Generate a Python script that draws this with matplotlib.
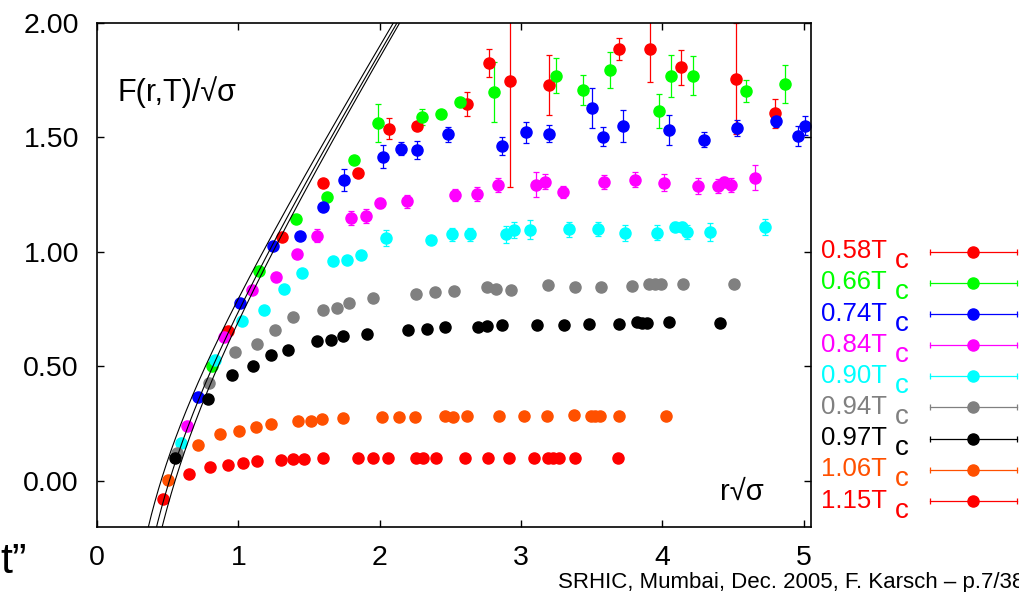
import numpy as np
import matplotlib
matplotlib.use("Agg")
import matplotlib.pyplot as plt
from matplotlib.lines import Line2D

plt.rcParams['font.family'] = ['Liberation Sans', 'DejaVu Sans']

# free energy F(r,T)/sqrt(sigma) vs r*sqrt(sigma) for several temperatures
labels = ["0.58", "0.66", "0.74", "0.84", "0.90", "0.94", "0.97", "1.06", "1.15"]
colors = ["#ff0000", "#00ff00", "#0000ff", "#ff00ff", "#00ffff",
          "#808080", "#000000", "#ff5000", "#ff0000"]

x058 = [0.925, 1.309, 1.602, 1.849, 2.066, 2.262, 2.616, 2.772, 2.923, 3.199,
        3.694, 3.916, 4.131, 4.522, 4.798]
y058 = [0.654, 1.066, 1.302, 1.345, 1.537, 1.547, 1.646, 1.823, 1.747, 1.728,
        1.887, 1.884, 1.806, 1.755, 1.604]
e058 = [0, 0, 0, 0, 0.045, 0.012, 0.053, 0.062, 0.462, 0.129,
        0.048, 0.141, 0.076, 0.243, 0.065]

x066 = [0.812, 1.149, 1.406, 1.625, 1.817, 1.991, 2.298, 2.437, 2.567, 2.812,
        3.248, 3.442, 3.631, 3.975, 4.058, 4.218, 4.591, 4.869]
y066 = [0.501, 0.918, 1.145, 1.238, 1.400, 1.563, 1.589, 1.601, 1.653, 1.697,
        1.769, 1.705, 1.793, 1.615, 1.769, 1.769, 1.702, 1.731]
e066 = [0, 0, 0, 0, 0, 0.083, 0.035, 0, 0.01, 0.13,
        0.076, 0.065, 0.08, 0.075, 0.092, 0.086, 0.05, 0.083]

x074 = [0.715, 1.014, 1.243, 1.434, 1.602, 1.746, 2.026, 2.149, 2.267, 2.482,
        2.864, 3.038, 3.201, 3.505, 3.579, 3.720, 4.048, 4.296, 4.529, 4.803,
        4.959, 5.013]
y074 = [0.366, 0.777, 1.027, 1.069, 1.197, 1.313, 1.415, 1.450, 1.444, 1.512,
        1.461, 1.521, 1.515, 1.628, 1.502, 1.551, 1.531, 1.490, 1.541, 1.569,
        1.505, 1.551]
e074 = [0, 0, 0, 0, 0, 0.047, 0.051, 0.028, 0.038, 0.034,
        0.038, 0.044, 0.037, 0.086, 0.041, 0.07, 0.067, 0.034, 0.036, 0.024,
        0.044, 0.041]

x084 = [0.637, 0.897, 1.099, 1.269, 1.418, 1.555, 1.795, 1.904, 2.005, 2.196,
        2.536, 2.692, 2.838, 3.107, 3.173, 3.296, 3.588, 3.805, 4.011, 4.253,
        4.393, 4.437, 4.485, 4.659]
y084 = [0.240, 0.628, 0.834, 0.889, 0.992, 1.071, 1.149, 1.156, 1.213, 1.220,
        1.248, 1.251, 1.290, 1.293, 1.305, 1.261, 1.306, 1.315, 1.302, 1.287,
        1.287, 1.305, 1.290, 1.323]
e084 = [0, 0, 0, 0, 0, 0.028, 0.03, 0.031, 0.02, 0.03,
        0.025, 0.03, 0.03, 0.055, 0.033, 0.025, 0.03, 0.033, 0.038, 0.033,
        0.03, 0.02, 0.03, 0.055]

x090 = [0.597, 0.837, 1.026, 1.184, 1.323, 1.449, 1.670, 1.772, 1.868, 2.047,
        2.364, 2.510, 2.642, 2.892, 2.953, 3.067, 3.340, 3.548, 3.737, 3.961,
        4.091, 4.138, 4.178, 4.338, 4.727]
y090 = [0.166, 0.529, 0.696, 0.748, 0.838, 0.909, 0.959, 0.962, 0.986, 1.059,
        1.052, 1.076, 1.076, 1.076, 1.095, 1.097, 1.098, 1.101, 1.084, 1.084,
        1.110, 1.108, 1.088, 1.087, 1.110]
e090 = [0, 0, 0, 0, 0, 0, 0, 0, 0, 0.035,
        0, 0.028, 0.03, 0.038, 0.035, 0.04, 0.032, 0.03, 0.035, 0.033,
        0.02, 0.02, 0.03, 0.038, 0.035]

x094 = [0.564, 0.795, 0.979, 1.132, 1.262, 1.385, 1.597, 1.695, 1.786, 1.956,
        2.258, 2.394, 2.524, 2.762, 2.821, 2.930, 3.190, 3.383, 3.567, 3.784,
        3.907, 3.949, 3.989, 4.145, 4.510]
y094 = [0.121, 0.429, 0.564, 0.596, 0.660, 0.715, 0.744, 0.756, 0.776, 0.797,
        0.817, 0.824, 0.831, 0.845, 0.838, 0.834, 0.856, 0.848, 0.845, 0.851,
        0.858, 0.860, 0.858, 0.860, 0.858]
e094 = [0] * len(x094)

x097 = [0.552, 0.783, 0.955, 1.102, 1.234, 1.349, 1.559, 1.656, 1.743, 1.911,
        2.203, 2.338, 2.463, 2.699, 2.758, 2.864, 3.116, 3.307, 3.484, 3.697,
        3.819, 3.855, 3.895, 4.048, 4.409]
y097 = [0.099, 0.359, 0.463, 0.500, 0.548, 0.572, 0.610, 0.616, 0.631, 0.642,
        0.660, 0.661, 0.670, 0.671, 0.674, 0.680, 0.681, 0.681, 0.686, 0.686,
        0.692, 0.689, 0.688, 0.692, 0.689]
e097 = [0, 0, 0, 0, 0, 0, 0, 0, 0, 0.014,
        0.01, 0.01, 0.012, 0.01, 0.01, 0.012, 0.01, 0.01, 0.01, 0.01,
        0.01, 0.01, 0.01, 0.015, 0.015]

x106 = [0.505, 0.713, 0.873, 1.007, 1.128, 1.231, 1.425, 1.512, 1.595, 1.742,
        2.015, 2.137, 2.253, 2.463, 2.522, 2.616, 2.847, 3.020, 3.185, 3.376,
        3.494, 3.524, 3.560, 3.697, 4.025]
y106 = [0.006, 0.157, 0.203, 0.219, 0.237, 0.250, 0.262, 0.263, 0.268, 0.274,
        0.277, 0.279, 0.279, 0.283, 0.281, 0.283, 0.283, 0.283, 0.283, 0.286,
        0.285, 0.285, 0.285, 0.284, 0.283]
e106 = [0] * len(x106)

x115 = [0.465, 0.653, 0.802, 0.925, 1.031, 1.132, 1.304, 1.385, 1.463, 1.599,
        1.845, 1.956, 2.062, 2.258, 2.309, 2.397, 2.604, 2.765, 2.916, 3.093,
        3.194, 3.229, 3.268, 3.383, 3.687]
y115 = [-0.081, 0.029, 0.061, 0.068, 0.080, 0.086, 0.090, 0.095, 0.095, 0.098,
        0.099, 0.099, 0.100, 0.100, 0.100, 0.099, 0.100, 0.100, 0.100, 0.100,
        0.100, 0.100, 0.100, 0.101, 0.101]
e115 = [0] * len(x115)

xs = [x058, x066, x074, x084, x090, x094, x097, x106, x115]
ys = [y058, y066, y074, y084, y090, y094, y097, y106, y115]
es = [e058, e066, e074, e084, e090, e094, e097, e106, e115]

# T=0 potential band: r - a/r for three Coulomb coefficients
coulomb = [0.205, 0.262, 0.305]

W, H = 1020, 592
fig = plt.figure(figsize=(W / 100, H / 100), dpi=100)
ax = fig.add_axes([97 / W, 1 - 526.7 / H, 713.7 / W, 504 / H])

for x, y, e, c in zip(xs, ys, es, colors):
    ax.errorbar(x, y, yerr=e, fmt='o', color=c, ms=8, elinewidth=0.9,
                capsize=2.5, capthick=0.9, mec=c)

r = np.linspace(0.3, 2.3, 400)
for a in coulomb:
    ax.plot(r, r - a / r, color='black', lw=0.8, zorder=5)

ax.set_xlim(0, 5.05)
ax.set_ylim(-0.2, 2.0)
ax.set_xticks([0, 1, 2, 3, 4, 5])
ax.set_yticks([0, 0.5, 1.0, 1.5, 2.0])
ax.set_yticklabels(["0.00", "0.50", "1.00", "1.50", "2.00"])
ax.tick_params(direction='in', top=True, right=True, length=5, width=1,
               labelsize=20.5, pad=13)
for sp in ax.spines.values():
    sp.set_linewidth(1.2)

ax.text((118 - 97) / 713.7, (526.7 - 101) / 504, "F(r,T)/\u221a\u03c3",
        transform=ax.transAxes, fontsize=22, va='baseline')
ax.text((720 - 97) / 713.7, (526.7 - 500) / 504, "r\u221a\u03c3",
        transform=ax.transAxes, fontsize=21, va='baseline')

# legend: label on the left, horizontal errorbar glyph on the right
for i, (lab, c) in enumerate(zip(labels, colors)):
    py = 251.7 + i * 31.15
    yf = 1 - py / H
    fig.text(821 / W, 1 - (py + 6.6) / H, lab + "T", color=c, fontsize=18.5,
             va='baseline')
    fig.text(895 / W, 1 - (py + 16.6) / H, "c", color=c, fontsize=20,
             va='baseline')
    fig.add_artist(Line2D([930 / W, 1017 / W], [yf, yf], color=c, lw=0.9,
                          marker='|', ms=5, mew=0.9,
                          transform=fig.transFigure))
    fig.add_artist(Line2D([973 / W], [yf], color=c, marker='o', ms=8,
                          transform=fig.transFigure))

fig.text(558 / W, 1 - 588 / H, "SRHIC, Mumbai, Dec. 2005, F. Karsch \u2013 p.7/38",
         fontsize=16, va='baseline')
fig.text(0, 1 - 573 / H, "t\u201d", fontsize=31, va='baseline')

fig.savefig("out.png", dpi=100)
